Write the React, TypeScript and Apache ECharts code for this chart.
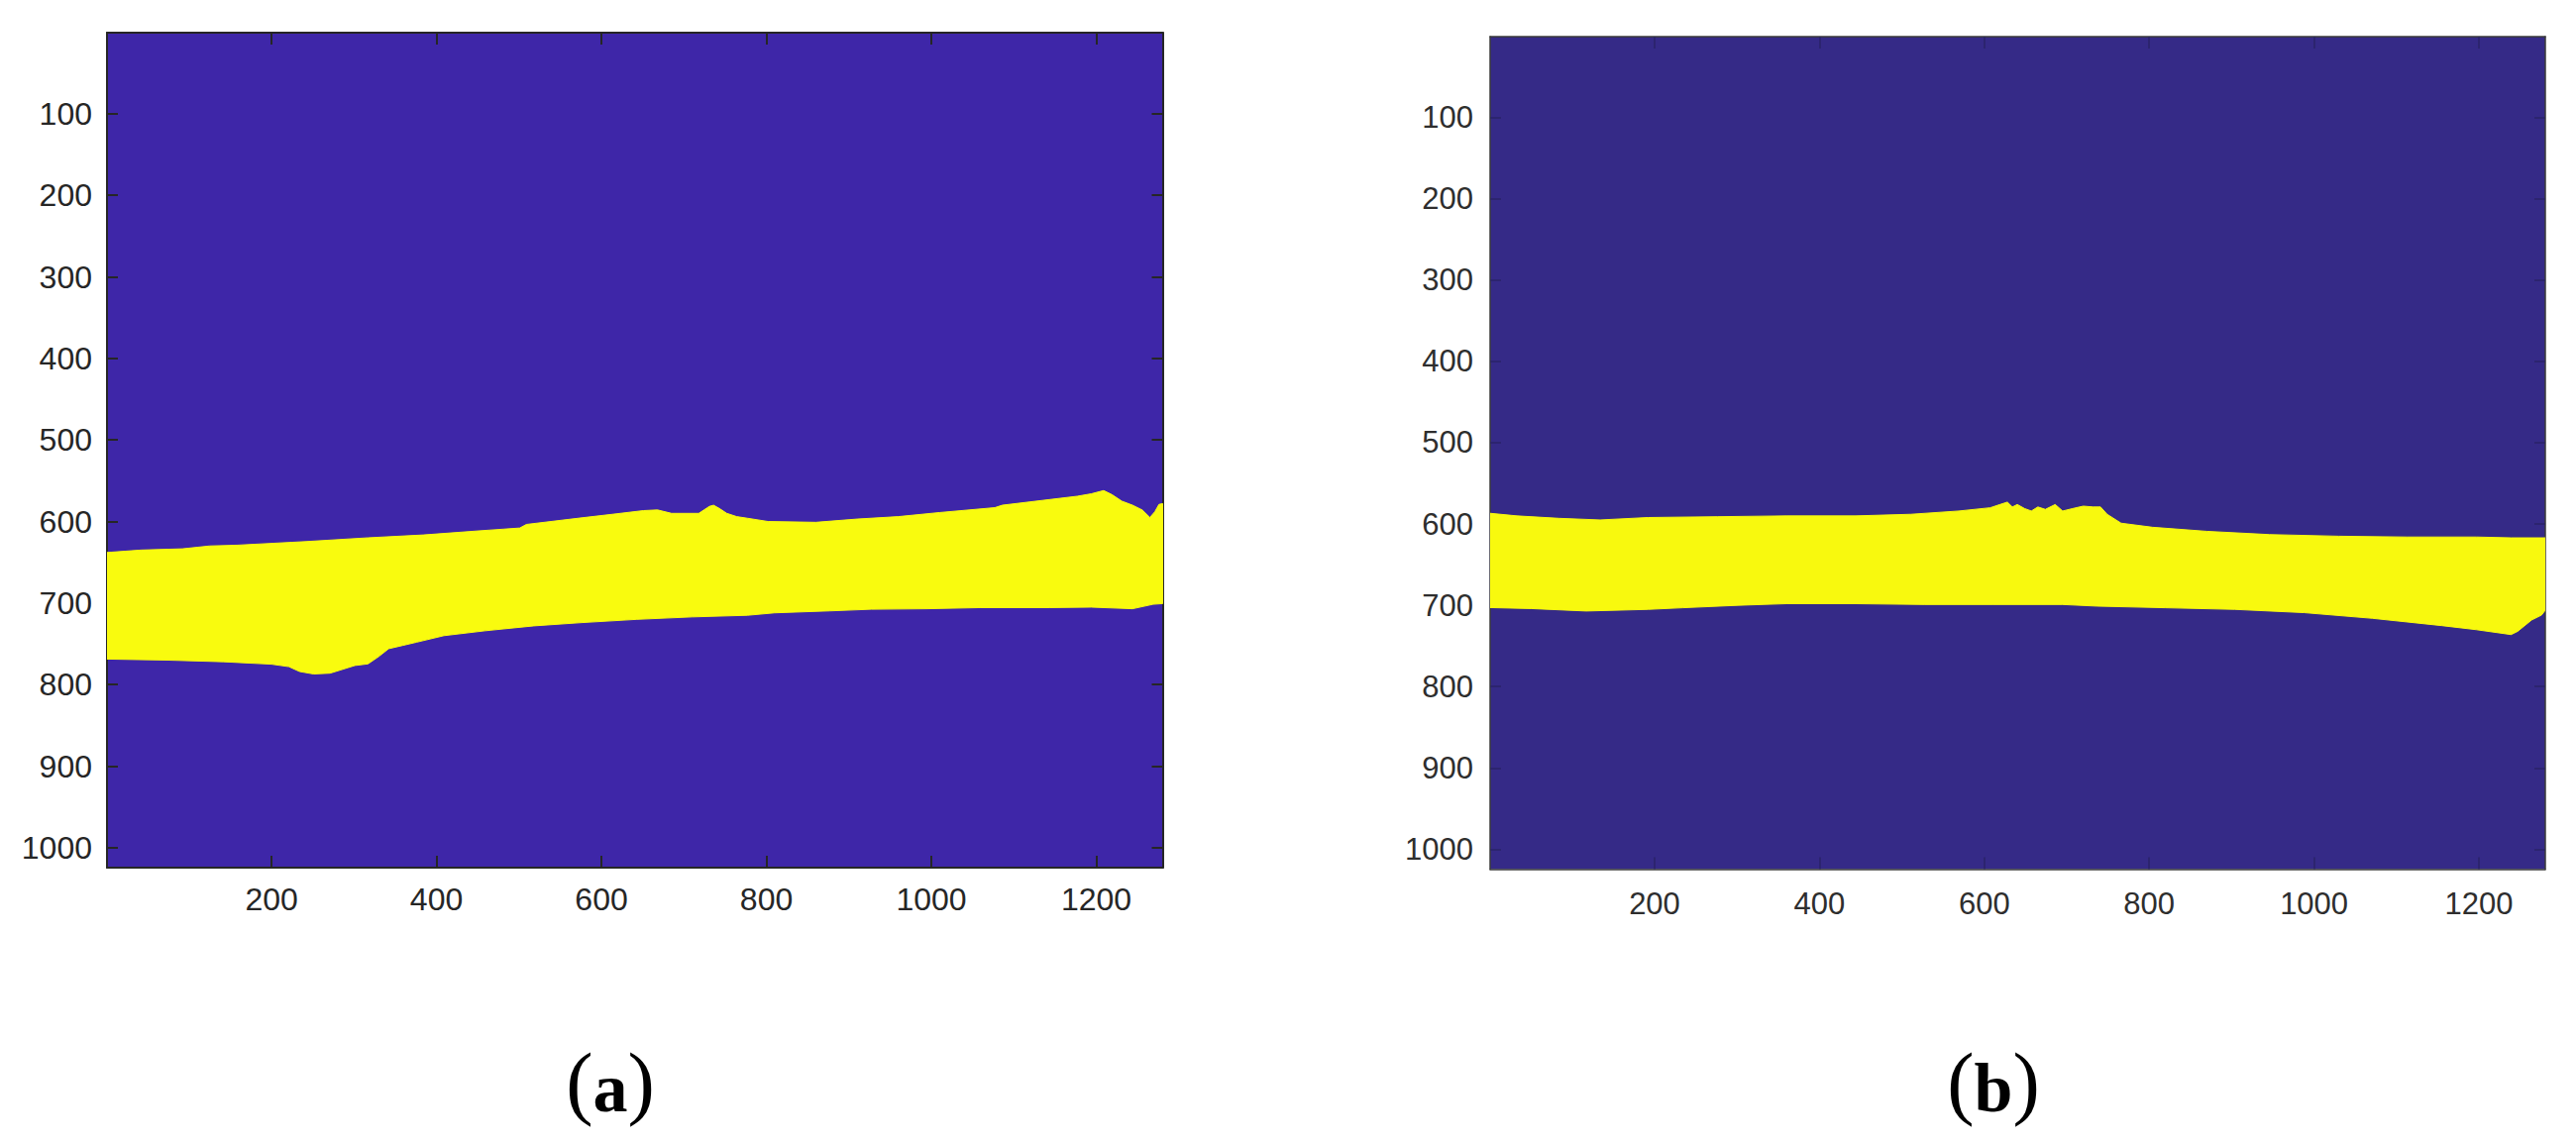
import React, { useEffect, useRef } from "react";
import * as echarts from "echarts";

// Image extent (pixels) shown on both panels
const imageWidth = 1280;
const imageHeight = 1024;

// Tick values
const xTickValues = [200, 400, 600, 800, 1000, 1200];
const yTickValues = [100, 200, 300, 400, 500, 600, 700, 800, 900, 1000];

// Panel (a): segmented band, upper edge [column, row]
const bandATop: [number, number][] = [
  [0.5, 638], [42, 635], [92, 633.5], [125, 630], [159, 629], [225, 625.5], [242, 624.6],
  [317, 620], [384, 616.5], [451, 611.5], [501, 608], [509, 603.6], [576, 595.5],
  [618, 590.6], [651, 586.6], [668, 585.8], [685, 590], [718, 590], [731, 581.4],
  [736, 580], [743, 584], [752, 590], [764, 594], [777, 596], [802, 600], [860, 601],
  [910, 597], [960, 594], [1010, 589], [1077, 583], [1086, 580], [1119, 576],
  [1177, 569], [1194, 566], [1209, 562], [1219, 567], [1231, 575], [1244, 580],
  [1256, 586], [1265, 595], [1271, 588], [1276, 579], [1280.5, 578],
];
// Panel (a): lower edge
const bandABottom: [number, number][] = [
  [0.5, 768.7], [75, 770], [142, 772], [200, 775], [221, 778], [234, 784], [251, 787],
  [271, 786], [284, 782], [301, 776.6], [317, 774.6], [330, 765.6], [342, 756],
  [359, 752], [376, 748], [409, 740], [459, 734], [518, 728], [576, 724], [643, 720],
  [710, 717], [777, 715], [810, 712], [877, 709.6], [927, 707.6], [994, 707],
  [1060, 705.6], [1144, 705.6], [1194, 705], [1244, 707], [1269, 701.5], [1280.5, 700.7],
];

// Panel (b): upper edge
const bandBTop: [number, number][] = [
  [0.5, 586.8], [33, 590], [84, 593], [134, 595], [192, 592], [276, 591], [360, 590],
  [444, 590], [511, 588], [569, 584], [607, 580], [619, 576], [628, 573], [634, 579],
  [640, 576], [649, 581], [657, 584], [665, 579], [674, 582], [686, 576], [695, 584],
  [707, 581], [720, 578], [732, 579], [741, 579], [749, 588], [766, 599], [804, 604],
  [870, 609], [946, 613], [1030, 615], [1113, 616], [1197, 616], [1239, 617], [1280.5, 617],
];
// Panel (b): lower edge
const bandBBottom: [number, number][] = [
  [0.5, 702.8], [50, 704], [117, 707], [192, 705], [234, 703], [301, 700], [360, 698],
  [444, 698], [527, 699], [611, 699], [695, 699], [737, 701], [820, 703], [904, 705],
  [988, 709], [1071, 716], [1155, 725], [1197, 730], [1239, 736], [1247, 732],
  [1264, 718], [1276, 712], [1280.5, 706],
];

const panels = [
  {
    grid: { left: 108, top: 33, width: 1065.5, height: 843 },
    background: "#3e26a8",
    band: "#f9fb0e",
    top: bandATop,
    bottom: bandABottom,
    axisColor: "#262626",
    axisWidth: 2,
    tickColor: "#262626",
    labelColor: "#262626",
    fontSize: 32,
    xMargin: 16,
    yMargin: 15,
    caption: "a",
    captionX: 616,
  },
  {
    grid: { left: 1504, top: 37, width: 1065, height: 840.5 },
    background: "#352a87",
    band: "#f8f90e",
    top: bandBTop,
    bottom: bandBBottom,
    axisColor: "#3a3a3a",
    axisWidth: 1.5,
    tickColor: "rgba(40,34,100,0.9)",
    labelColor: "#2e2e2e",
    fontSize: 31,
    xMargin: 19,
    yMargin: 17,
    caption: "b",
    captionX: 2012,
  },
];

const plain = (v: number) => String(v);

export default function App() {
  const ref = useRef<HTMLDivElement>(null);

  useEffect(() => {
    if (!ref.current) return;
    const chart = echarts.init(ref.current, undefined, { renderer: "svg" });

    const grids: any[] = [];
    const xAxes: any[] = [];
    const yAxes: any[] = [];
    const series: any[] = [];
    const graphics: any[] = [];

    panels.forEach((p, i) => {
      grids.push({
        ...p.grid,
        show: true,
        backgroundColor: p.background,
        borderWidth: 0,
        containLabel: false,
      });
      const line = { show: true, onZero: false, lineStyle: { color: p.axisColor, width: p.axisWidth } };
      const label = {
        color: p.labelColor,
        fontFamily: "'Liberation Sans', Arial, sans-serif",
        fontSize: p.fontSize,
        formatter: plain,
      };
      const baseX = {
        type: "value",
        gridIndex: i,
        min: 0.5,
        max: imageWidth + 0.5,
        splitLine: { show: false },
        axisLine: line,
        axisTick: {
          show: true,
          inside: true,
          length: 12,
          customValues: xTickValues,
          lineStyle: { color: p.tickColor, width: p.axisWidth },
        },
      };
      xAxes.push({
        ...baseX,
        position: "bottom",
        axisLabel: { ...label, show: true, margin: p.xMargin, customValues: xTickValues },
      });
      xAxes.push({ ...baseX, position: "top", axisLabel: { show: false } });
      const baseY = {
        type: "value",
        gridIndex: i,
        inverse: true,
        min: 0.5,
        max: imageHeight + 0.5,
        splitLine: { show: false },
        axisLine: line,
        axisTick: {
          show: true,
          inside: true,
          length: 11,
          customValues: yTickValues,
          lineStyle: { color: p.tickColor, width: p.axisWidth },
        },
      };
      yAxes.push({
        ...baseY,
        position: "left",
        axisLabel: { ...label, show: true, margin: p.yMargin, customValues: yTickValues },
      });
      yAxes.push({ ...baseY, position: "right", axisLabel: { show: false } });

      const top = p.top;
      const bottom = p.bottom;
      series.push({
        type: "custom",
        xAxisIndex: i * 2,
        yAxisIndex: i * 2,
        clip: true,
        silent: true,
        z: 1,
        data: [top[0]],
        encode: { x: 0, y: 1 },
        renderItem: (_params: any, api: any) => {
          const pts = top
            .map((pt) => api.coord(pt))
            .concat(bottom.slice().reverse().map((pt) => api.coord(pt)));
          return {
            type: "polygon",
            shape: { points: pts },
            style: { fill: p.band, stroke: p.band, lineWidth: 1 },
          };
        },
      });

      graphics.push({
        type: "text",
        x: p.captionX,
        y: 1092,
        style: {
          text: "{p|(}{b|" + p.caption + "}{p|)}",
          align: "center",
          verticalAlign: "middle",
          rich: {
            p: {
              fontFamily: "'Liberation Serif', 'Times New Roman', serif",
              fontSize: 82,
              fontWeight: "normal",
              fill: "#000",
              verticalAlign: "bottom",
            },
            b: {
              fontFamily: "'Liberation Serif', 'Times New Roman', serif",
              fontSize: 70,
              fontWeight: "bold",
              fill: "#000",
              verticalAlign: "bottom",
            },
          },
        },
      });
    });

    chart.setOption({
      animation: false,
      backgroundColor: "#ffffff",
      grid: grids,
      xAxis: xAxes,
      yAxis: yAxes,
      series,
      graphic: graphics,
    });

    return () => chart.dispose();
  }, []);

  return (
    <div
      ref={ref}
      style={{ position: "fixed", left: 0, top: 0, width: 2600, height: 1153, background: "#fff" }}
    />
  );
}
